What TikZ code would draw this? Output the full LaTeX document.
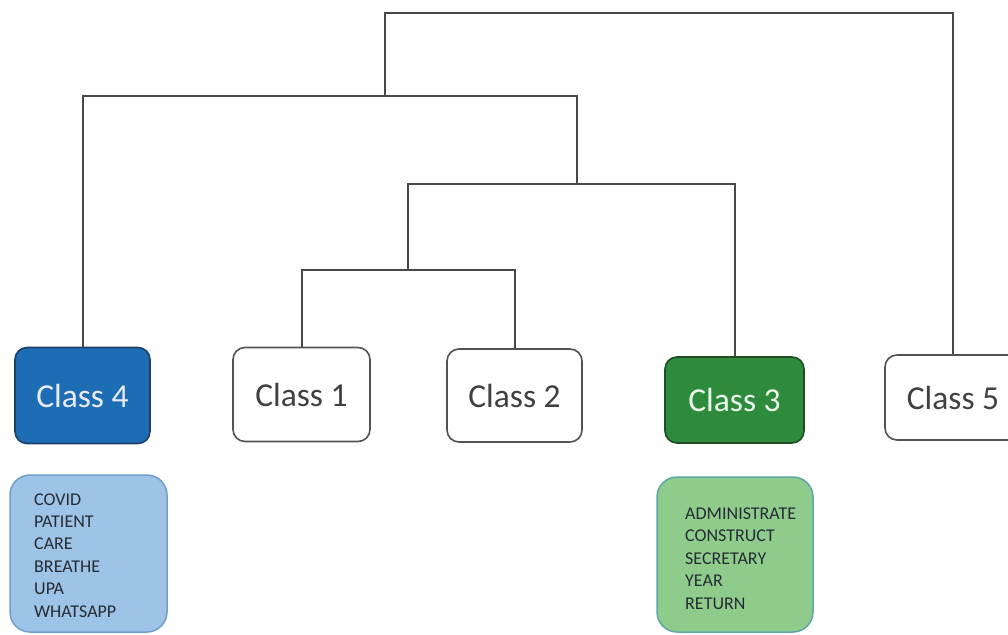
\documentclass[tikz,border=0pt]{standalone}
\usepackage{fontspec}
\setmainfont{Carlito}
\definecolor{lnk}{HTML}{484848}
\definecolor{bluef}{HTML}{1C6DB4}
\definecolor{blued}{HTML}{1E3F66}
\definecolor{greenf}{HTML}{2E8A3C}
\definecolor{greend}{HTML}{1F4F25}
\definecolor{lblue}{HTML}{9DC3E6}
\definecolor{lblued}{HTML}{6F9FCC}
\definecolor{lgreen}{HTML}{8FCC8C}
\definecolor{lgreend}{HTML}{5FA6A6}
\definecolor{txtg}{HTML}{404040}
\definecolor{wtxt}{HTML}{262C34}
\tikzset{
  link/.style={draw=lnk, line width=2pt},
  cls/.style={rounded corners=12pt, line width=1.6pt, inner sep=0pt,
    font=\fontsize{33.5}{40}\selectfont},
  plaincls/.style={cls, draw=txtg!90, fill=white, text=txtg},
  bluecls/.style={cls, draw=blued, fill=bluef, text=white!92!blue},
  greencls/.style={cls, draw=greend, fill=greenf, text=white!92!green},
  wordbox/.style={rounded corners=20pt, line width=1.5pt, inner sep=0pt},
  word/.style={anchor=base west, inner sep=0pt, text=wtxt, font=\fontsize{18}{22}\selectfont},
}
\begin{document}
\begin{tikzpicture}[x=1pt,y=-1pt]
\clip (0,0) rectangle (1008,634);
\fill[white] (0,0) rectangle (1008,634);
% class boxes
\node[bluecls, minimum width=135pt, minimum height=96pt] (c4) at (82.5,395.5) {Class 4};
\node[plaincls, minimum width=137pt, minimum height=94pt] (c1) at (301.5,394.5) {Class 1};
\node[plaincls, minimum width=135pt, minimum height=93pt] (c2) at (514.5,395.5) {Class 2};
\node[greencls, minimum width=139pt, minimum height=86pt] (c3) at (734.5,400) {Class 3};
\node[plaincls, minimum width=136pt, minimum height=85pt] (c5) at (953,397.5) {Class 5};
% word boxes
\node[wordbox, draw=lblued, fill=lblue, minimum width=157pt, minimum height=157pt] (w4) at (88.5,553.5) {};
\node[wordbox, draw=lgreend, fill=lgreen, minimum width=156pt, minimum height=155pt] (w3) at (735,554.5) {};
\foreach \t [count=\i] in {COVID,PATIENT,CARE,BREATHE,UPA,WHATSAPP}
  \node[word] (w4-\i) at (34,{505+22.4*(\i-1)}) {\t};
\foreach \t [count=\i] in {ADMINISTRATE,CONSTRUCT,SECRETARY,YEAR,RETURN}
  \node[word] (w3-\i) at (685,{519+22.5*(\i-1)}) {\t};
% joints
\coordinate (m12) at (408,270);
\coordinate (m123) at (577,184);
\coordinate (m4123) at (385,96);
\coordinate (mtop) at (670,13);
% dendrogram
\draw[link] (c1.north) |- (m12) -| (c2.north);
\draw[link] (m12) |- (m123) -| (c3.north);
\draw[link] (c4.north) |- (m4123) -| (m123);
\draw[link] (m4123) |- (mtop) -| (c5.north);
\end{tikzpicture}
\end{document}
